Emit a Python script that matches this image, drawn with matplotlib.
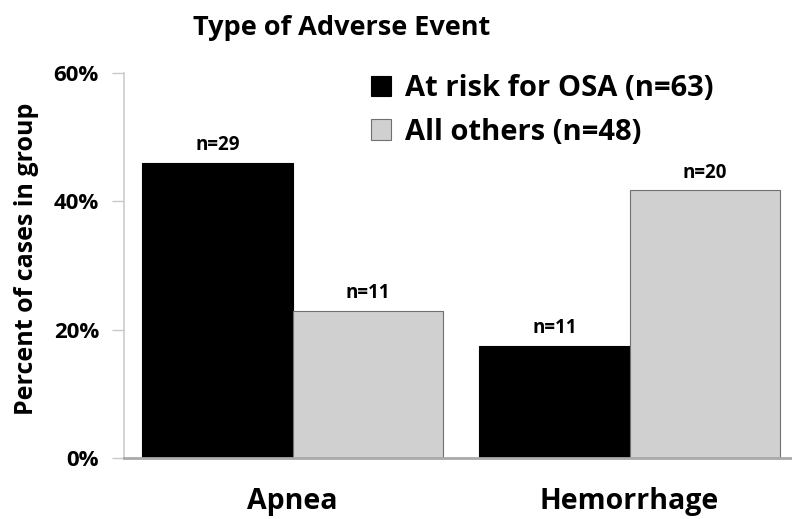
import matplotlib
matplotlib.use("Agg")
import matplotlib.pyplot as plt
import numpy as np

categories = ["Apnea", "Hemorrhage"]
series_names = ["At risk for OSA (n=63)", "All others (n=48)"]
at_risk = [46.0, 17.5]
others = [22.9, 41.7]
at_risk_n = ["n=29", "n=11"]
others_n = ["n=11", "n=20"]
yticks = [0, 20, 40, 60]
ytick_labels = ["0%", "20%", "40%", "60%"]

plt.rcParams['font.family'] = ['Open Sans', 'DejaVu Sans']
plt.rcParams['font.weight'] = 'bold'

fig = plt.figure(figsize=(7.92, 5.19), dpi=100)
ax = fig.add_axes([124/792, 1 - 458/519, 674/792, (458 - 73)/519])

x = np.arange(len(categories))
w = 0.446
b1 = ax.bar(x - w/2, at_risk, w, color="black", edgecolor="black", linewidth=0.8, label=series_names[0])
b2 = ax.bar(x + w/2, others, w, color="#d0d0d0", edgecolor="#707070", linewidth=0.8, label=series_names[1])

for rect, lab in zip(b1, at_risk_n):
    ax.text(rect.get_x() + rect.get_width()/2, rect.get_height() + 1.2, lab,
            ha="center", va="bottom", fontsize=13.5, fontweight="bold")
for rect, lab in zip(b2, others_n):
    ax.text(rect.get_x() + rect.get_width()/2, rect.get_height() + 1.2, lab,
            ha="center", va="bottom", fontsize=13.5, fontweight="bold")

ax.set_xlim(-0.5, 1.5)
ax.set_ylim(0, 60)
ax.set_yticks(yticks)
ax.set_yticklabels(ytick_labels, fontsize=16, fontweight="bold")
ax.set_xticks(x)
ax.set_xticklabels(categories, fontsize=20.5, fontweight="bold")
ax.tick_params(axis="x", length=0, pad=21)
ax.tick_params(axis="y", length=9, width=1, color="#c8c8c8", pad=9)
for s in ["top", "right"]:
    ax.spines[s].set_visible(False)
ax.spines["left"].set_color("#cccccc")
ax.spines["left"].set_linewidth(1.2)
ax.spines["bottom"].set_color("#aaaaaa")
ax.spines["bottom"].set_linewidth(2)

ax.set_ylabel("Percent of cases in group", fontsize=18, fontweight="bold")
ax.yaxis.set_label_coords((39 - 124) / 674, (458 - 259) / 385)

fig.text(342/792, 1 - 35/519, "Type of Adverse Event", ha="center", va="baseline",
         fontsize=19.5, fontweight="bold")

leg = ax.legend(loc="upper left", bbox_to_anchor=(371/792, 1 - 74/519), bbox_transform=fig.transFigure,
                frameon=False, prop={'weight': 'bold', 'size': 21},
                handlelength=0.7, handleheight=0.7, handletextpad=0.45, labelspacing=0.5,
                borderaxespad=0, borderpad=0)

fig.savefig("out.png", dpi=100)
